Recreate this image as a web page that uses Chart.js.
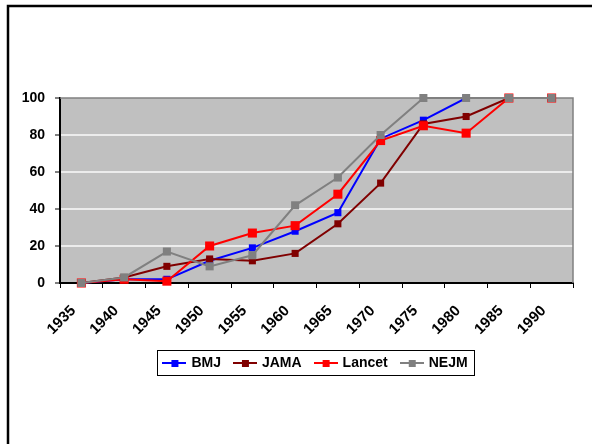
<!DOCTYPE html>
<html>
<head>
<meta charset="utf-8">
<script src="https://cdn.jsdelivr.net/npm/chart.js@4/dist/chart.umd.min.js"></script>
<style>
  html, body { margin: 0; padding: 0; background: #fff; }
  #wrap { position: relative; width: 592px; height: 444px; }
</style>
</head>
<body>
<div id="wrap"><canvas id="c" width="592" height="444"></canvas></div>
<script>
const categories = ['1935','1940','1945','1950','1955','1960','1965','1970','1975','1980','1985','1990'];
const seriesNames = ['BMJ','JAMA','Lancet','NEJM'];
const bmj    = [0, 2, 2, 12, 19, 28, 38, 78, 88, 100, 100, 100];
const jama   = [0, 3, 9, 13, 12, 16, 32, 54, 86, 90, 100, 100];
const lancet = [0, 2, 1, 20, 27, 31, 48, 77, 85, 81, 100, 100];
const nejm   = [0, 3, 17, 9, 15, 42, 57, 80, 100, 100, 100, 100];
const yTickStep = 20;

const colors = ['#0000ff', '#800000', '#ff0000', '#808080'];
const radii = [5, 5, 6.4, 5.7];

function legendSymbol(color) {
  const cv = document.createElement('canvas');
  cv.width = 24; cv.height = 10;
  const g = cv.getContext('2d');
  g.strokeStyle = color; g.lineWidth = 2;
  g.beginPath(); g.moveTo(0, 5); g.lineTo(24, 5); g.stroke();
  g.fillStyle = color;
  g.fillRect(9, 2, 7, 7);
  return cv;
}

Chart.defaults.font.family = "'Liberation Sans', Arial, sans-serif";
Chart.defaults.font.weight = 'bold';
Chart.defaults.font.size = 14;
Chart.defaults.color = '#000';

const seriesData = [bmj, jama, lancet, nejm];
const datasets = seriesNames.map((name, i) => ({
  label: name,
  data: seriesData[i],
  borderColor: colors[i],
  backgroundColor: colors[i],
  borderWidth: 2,
  pointStyle: 'rect',
  pointRadius: radii[i],
  pointBorderWidth: 0,
  pointBackgroundColor: colors[i],
  tension: 0,
  clip: false,
  order: 4 - i
}));

const framePlugin = {
  id: 'frame',
  afterLayout(chart) {
    if (chart.legend) {
      chart.legend.left += 29.5;
      chart.legend.right += 29.5;
    }
  },
  beforeDraw(chart) {
    const ctx = chart.ctx;
    const a = chart.chartArea;
    ctx.save();
    ctx.fillStyle = '#fff';
    ctx.fillRect(0, 0, chart.width, chart.height);
    ctx.strokeStyle = '#000';
    ctx.lineWidth = 2.5;
    ctx.beginPath();
    ctx.moveTo(8, chart.height + 5);
    ctx.lineTo(8, 6);
    ctx.lineTo(chart.width + 5, 6);
    ctx.stroke();
    ctx.fillStyle = '#c0c0c0';
    ctx.fillRect(a.left, a.top, a.right - a.left, a.bottom - a.top);
    ctx.restore();
  },
  beforeDatasetsDraw(chart) {
    const ctx = chart.ctx;
    const a = chart.chartArea;
    ctx.save();
    ctx.strokeStyle = '#808080';
    ctx.lineWidth = 1.5;
    ctx.beginPath();
    ctx.moveTo(a.left, a.top);
    ctx.lineTo(a.right, a.top);
    ctx.lineTo(a.right, a.bottom);
    ctx.stroke();
    ctx.restore();
  },
  afterDraw(chart) {
    const hb = chart.legend && chart.legend.legendHitBoxes;
    if (!hb || !hb.length) return;
    let l = Infinity, r = -Infinity, cy = 0;
    hb.forEach(b => { l = Math.min(l, b.left); r = Math.max(r, b.left + b.width); cy += b.top + b.height / 2; });
    cy /= hb.length;
    const ctx = chart.ctx;
    ctx.save();
    ctx.strokeStyle = '#000';
    ctx.lineWidth = 1;
    ctx.strokeRect(Math.round(l - 7) + 0.5, Math.round(cy - 13) + 0.5, Math.round(r - l + 14), 25);
    ctx.restore();
  }
};

new Chart(document.getElementById('c'), {
  type: 'line',
  data: { labels: categories, datasets },
  options: {
    responsive: false,
    animation: false,
    devicePixelRatio: 1,
    layout: { padding: { left: 0, right: 19, top: 98, bottom: 64 } },
    plugins: {
      tooltip: { enabled: false },
      legend: {
        position: 'bottom',
        labels: {
          usePointStyle: true,
          pointStyleWidth: 20,
          padding: 14,
          font: { size: 14, weight: 'bold' },
          color: '#000',
          sort: (a, b) => a.datasetIndex - b.datasetIndex,
          generateLabels(chart) {
            return chart.data.datasets.map((ds, i) => ({
              text: ds.label,
              pointStyle: legendSymbol(ds.borderColor),
              fillStyle: ds.borderColor,
              strokeStyle: ds.borderColor,
              lineWidth: 0,
              hidden: false,
              datasetIndex: i,
              fontColor: '#000'
            }));
          }
        }
      }
    },
    scales: {
      x: {
        type: 'category',
        offset: true,
        grid: {
          offset: true,
          drawOnChartArea: false,
          drawTicks: true,
          tickLength: 5,
          tickColor: '#000',
          tickWidth: 1
        },
        border: { display: true, color: '#000', width: 2 },
        ticks: {
          maxRotation: 45,
          minRotation: 45,
          padding: 14,
          labelOffset: -8,
          autoSkip: false,
          font: { size: 15, weight: 'bold' },
          color: '#000'
        },
        afterFit(scale) { scale.height = 59; }
      },
      y: {
        min: 0,
        max: 100,
        grid: {
          color: ctx => (ctx.tick && (ctx.tick.value === 0 || ctx.tick.value === 100)) ? 'rgba(0,0,0,0)' : '#ececec',
          lineWidth: 2,
          drawTicks: true,
          tickLength: 5,
          tickColor: '#000',
          tickWidth: 1
        },
        border: { display: true, color: '#000', width: 2 },
        ticks: {
          stepSize: yTickStep,
          padding: 10,
          font: { size: 14, weight: 'bold' },
          color: '#000'
        },
        afterFit(scale) { scale.width = 60; }
      }
    }
  },
  plugins: [framePlugin]
});
</script>
</body>
</html>
